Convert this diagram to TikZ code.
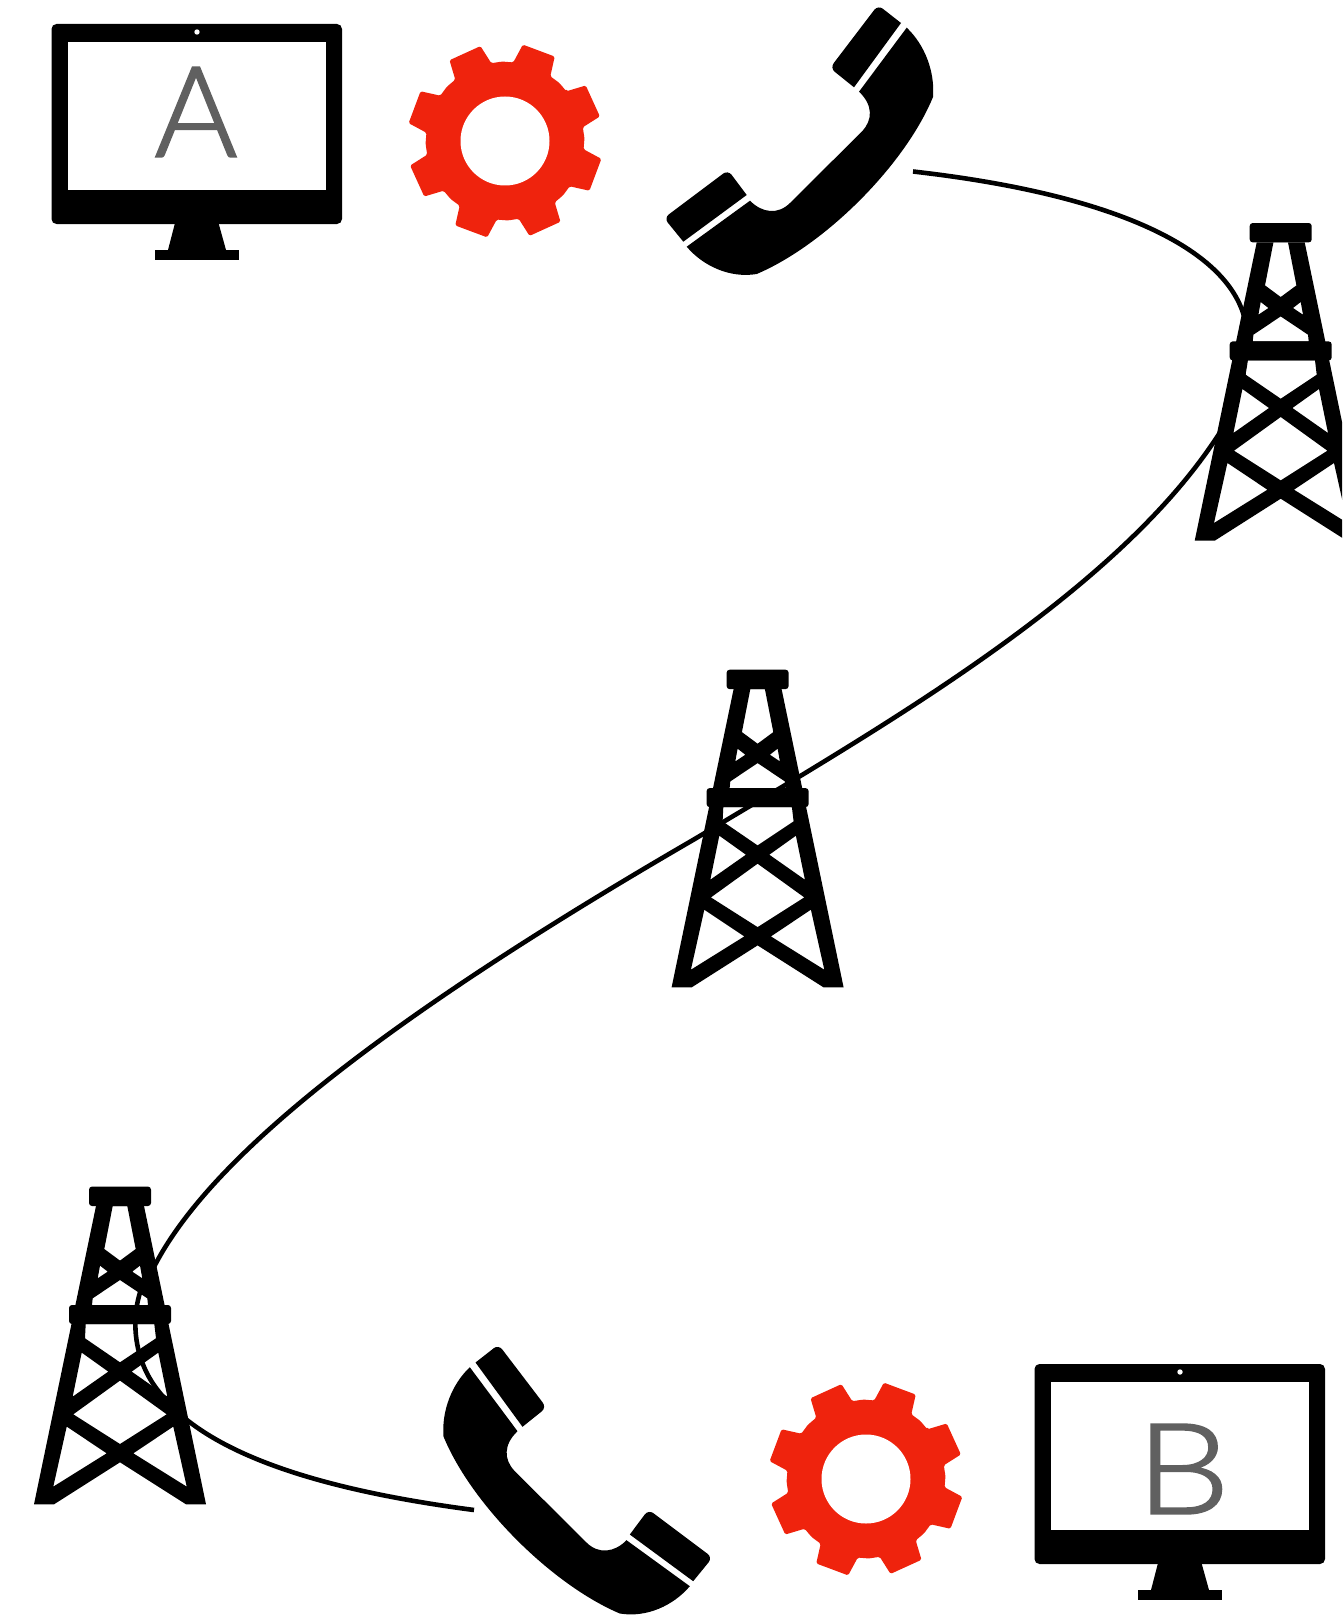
\documentclass[tikz,border=0pt]{standalone}
\usepackage{fontspec}
\newfontfamily\screenfont[FakeBold=1.8]{Lato Light}
\newfontfamily\screenwide[FakeBold=1.8,FakeStretch=1.18]{Lato Light}
\definecolor{gearred}{RGB}{239,35,13}
\definecolor{screengray}{RGB}{96,96,96}
\tikzset{
    wire/.style={line width=4.6pt},
    screentext/.style={text=screengray, inner sep=0pt},
    monitor/.pic={
        \fill[rounded corners=5] (0,0) rectangle (290.5,200);
        \fill[white] (16.5,18) rectangle (274.5,166);
        \fill[white] (145.5,8) circle (2.7);
        \fill (123.5,199) -- (167,199) -- (174.5,226) -- (116.5,226) -- cycle;
        \fill (103,225.5) rectangle (187.5,236);
    },
    gear/.pic={
        \fill[gearred, rounded corners=1.5] (-39:79)
            \foreach \a in {0,45,...,315} {
                -- ({\a-39}:79) -- ({\a-34.5}:98) -- ({\a-14.5}:98) -- ({\a-10}:79) -- ({\a-2}:79.5)
            } -- cycle;
        \fill[white] (0,0) circle (44.5);
    },
    handset/.pic={
        \fill (116.7,-112.3) .. controls (135,-95) and (145,-68) .. (143,-43)
            .. controls (115,25) and (35,105) .. (-33.3,134)
            .. controls (-60,138.5) and (-87,126) .. (-103.3,106.7)
            -- (-40,60.7) .. controls (-28,73) and (-12,75) .. (0,63)
            -- (71.7,-8.3) .. controls (83,-20) and (83,-35) .. (69,-48.3) -- cycle;
        \fill (111,-117) [rounded corners=6] -- (88,-135) -- (40,-72) [sharp corners] -- (64,-52.7) -- cycle;
        \fill (-43.3,55) [rounded corners=6] -- (-62,30) -- (-126,78) [sharp corners] -- (-106.7,101.7) -- cycle;
    },
    tower/.pic={
        \fill[even odd rule] (-86,0) -- (-24,-298.3) -- (24,-298.3) -- (86,0) -- (66,0) -- (0,-42) -- (-66,0) -- cycle
            (-7.3,-298.3) -- (7.3,-298.3) -- (15.7,-255.3) -- (0,-243.7) -- (-15.7,-255.3) -- cycle
            (-20,-238.7) -- (-12.3,-232.7) -- (-22.3,-226) -- cycle
            (20,-238.7) -- (12.3,-232.7) -- (22.3,-226) -- cycle
            (0,-224.3) -- (27.3,-206) -- (28,-199.3) -- (-28,-199.3) -- (-27.3,-206) -- cycle
            (-34.3,-180.3) -- (34.3,-180.3) -- (36,-166) -- (0,-142) -- (-35,-166) -- cycle
            (-38.3,-151.7) -- (-11.7,-132.7) -- (-47.3,-107.7) -- cycle
            (38.3,-151.7) -- (11.7,-132.7) -- (47.3,-107.7) -- cycle
            (0,-123.7) -- (46.7,-90) -- (0,-60.3) -- (-46.7,-90) -- cycle
            (-53.3,-77.7) -- (-13.3,-51) -- (-66.7,-17.7) -- cycle
            (53.3,-77.7) -- (13.3,-51) -- (66.7,-17.7) -- cycle;
        \fill[rounded corners=3] (-31,-317.7) rectangle (31,-298.3);
        \fill[rounded corners=3] (-51,-199.3) rectangle (51,-180.3);
    }
}

\begin{document}
\begin{tikzpicture}[x=1pt, y=-1pt]
    \useasboundingbox (0,0) rectangle (1342,1616);
    \clip (0,0) rectangle (1342,1616);

    % Places
    \coordinate (monA) at (51.5,24);
    \coordinate (gearA) at (505,141);
    \coordinate (phoneA) at (790,140);
    \coordinate (monB) at (1034.5,1364);
    \coordinate (gearB) at (866,1479);
    \coordinate (phoneB) at (586.5,1479.5);
    \coordinate (towerA) at (1280.7,540.7);
    \coordinate (towerB) at (757.6,987.4);
    \coordinate (towerC) at (120,1504.3);

    % Line ends and passes
    \coordinate (endA) at (913,171.5);
    \coordinate (endB) at (474,1510);
    \coordinate (inA) at (1244,316);
    \coordinate (outA) at (1217,437);
    \coordinate (inB) at (802,775);
    \coordinate (outB) at (693,840);
    \coordinate (inC) at (155,1265);
    \coordinate (outC) at (160,1393);

    % Line
    \draw [wire] (endA) .. controls (1120,195) and (1225,250) .. (inA)
        .. controls (1253,350) and (1240,405) .. (outA)
        .. controls (1130,570) and (950,685) .. (inB)
        -- (outB)
        .. controls (400,1010) and (215,1150) .. (inC)
        .. controls (132,1290) and (124,1350) .. (outC)
        .. controls (215,1465) and (360,1495) .. (endB);

    % Towers
    \pic at (towerA) {tower};
    \pic at (towerB) {tower};
    \pic at (towerC) {tower};

    % Top row
    \pic at (monA) {monitor};
    \node (labelA) [screentext, font=\screenfont\fontsize{126}{126}\selectfont] at (196,112) {A};
    \pic at (gearA) {gear};
    \pic at (phoneA) {handset};

    % Bottom row
    \pic [xscale=-1] at (phoneB) {handset};
    \pic at (gearB) {gear};
    \pic at (monB) {monitor};
    \node (labelB) [screentext, font=\screenwide\fontsize{126}{126}\selectfont] at (1183,1469) {B};

\end{tikzpicture}
\end{document}
